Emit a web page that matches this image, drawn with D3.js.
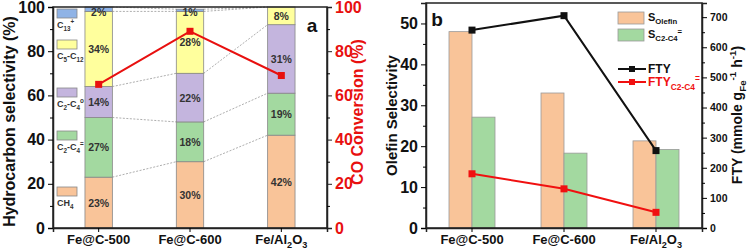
<!DOCTYPE html>
<html>
<head>
<meta charset="utf-8">
<script src="https://cdn.jsdelivr.net/npm/d3@7"></script>
<style>
  body { margin: 0; background: #fff; }
  svg { font-family: Arial, "Liberation Sans", sans-serif; }
</style>
</head>
<body>
<div id="chart"></div>
<script>
// data
var cats = ["Fe@C-500", "Fe@C-600", "Fe/Al2O3"];
var species = ["CH4", "C2-C4=", "C2-C4o", "C5-C12", "C13+"];
var ch4 = [23, 30, 42];
var olefins = [27, 18, 19];
var paraffins = [14, 22, 31];
var c5c12 = [34, 28, 8];
var c13 = [2, 1, 0];
var coConv = [65, 89, 69];

var sOlefin = [48, 33, 21.3];
var sC2C4 = [27.1, 18.3, 19.2];
var fty = [657, 705, 257];
var ftyC2C4 = [180, 130, 52];

var ticksA = [0, 20, 40, 60, 80, 100];
var ticksB = [0, 10, 20, 30, 40, 50];
var ticksFTY = [0, 100, 200, 300, 400, 500, 600, 700];

var colors = { "CH4": "#f9c499", "C2-C4=": "#a3d9a0", "C2-C4o": "#c4b5de", "C5-C12": "#ffff9d", "C13+": "#8fb3e6" };

var W = 747, H = 249;
var svg = d3.select("#chart").append("svg").attr("width", W).attr("height", H);

// rich text with sub / superscripts
function rich(sel, parts, size) {
  var cur = 0;
  parts.forEach(function(p) {
    var target = p[1] == "sub" ? size * 0.3 : p[1] == "sup" ? -size * 0.4 : 0;
    sel.append("tspan")
      .attr("dy", target - cur)
      .attr("font-size", p[1] ? size * 0.7 : size)
      .text(p[0]);
    cur = target;
  });
}
var catParts = [
  [["Fe@C-500"]],
  [["Fe@C-600"]],
  [["Fe/Al"], ["2", "sub"], ["O"], ["3", "sub"]]
];
var speciesParts = {
  "CH4": [["CH"], ["4", "sub"]],
  "C2-C4=": [["C"], ["2", "sub"], ["-C"], ["4", "sub"], ["=", "sup"]],
  "C2-C4o": [["C"], ["2", "sub"], ["-C"], ["4", "sub"], ["o", "sup"]],
  "C5-C12": [["C"], ["5", "sub"], ["-C"], ["12", "sub"]],
  "C13+": [["C"], ["13", "sub"], ["+", "sup"]]
};

// ---------- panel a ----------
var a = { left: 53, right: 327, top: 7, bottom: 228 };
var xa = d3.scaleBand().domain(cats).range([a.left, a.right]).paddingInner(0.7).paddingOuter(0.35);
var ya = d3.scaleLinear().domain([0, 100]).range([a.bottom, a.top]);

var table = cats.map(function(c, i) {
  return { cat: c, "CH4": ch4[i], "C2-C4=": olefins[i], "C2-C4o": paraffins[i], "C5-C12": c5c12[i], "C13+": c13[i] };
});
var stacked = d3.stack().keys(species)(table);

// dashed connectors between bars
var ga = svg.append("g");
for (var i = 0; i < cats.length - 1; i++) {
  stacked.forEach(function(s, k) {
    if (k == species.length - 1 && s[i + 1][1] - s[i + 1][0] == 0 && s[i][1] - s[i][0] == 0) return;
    ga.append("line")
      .attr("x1", xa(cats[i]) + xa.bandwidth()).attr("y1", ya(s[i][1]))
      .attr("x2", xa(cats[i + 1])).attr("y2", ya(s[i + 1][1]))
      .attr("stroke", "#999").attr("stroke-width", 0.8).attr("stroke-dasharray", "2,1.5");
  });
}

stacked.forEach(function(s) {
  ga.append("g").selectAll("rect").data(s).join("rect")
    .attr("x", d => xa(d.data.cat))
    .attr("y", d => ya(d[1]))
    .attr("width", xa.bandwidth())
    .attr("height", d => ya(d[0]) - ya(d[1]))
    .attr("fill", colors[s.key])
    .attr("stroke", d => d[1] > d[0] ? "#888" : "none")
    .attr("stroke-width", 0.8);
  ga.append("g").selectAll("text").data(s.filter(d => d[1] > d[0])).join("text")
    .attr("x", d => xa(d.data.cat) + xa.bandwidth() / 2)
    .attr("y", d => Math.max(ya((d[0] + d[1]) / 2), ya(100) + 5))
    .attr("dy", "0.38em")
    .attr("text-anchor", "middle")
    .attr("font-size", 10.5).attr("font-weight", "bold").attr("fill", "#333")
    .text(d => (d[1] - d[0]) + "%");
});

// CO conversion line
var lineA = d3.line().x((d, i) => xa(cats[i]) + xa.bandwidth() / 2).y(d => ya(d));
ga.append("path").attr("d", lineA(coConv)).attr("fill", "none").attr("stroke", "#e8100f").attr("stroke-width", 2);
ga.selectAll(".mk").data(coConv).join("rect")
  .attr("x", (d, i) => xa(cats[i]) + xa.bandwidth() / 2 - 3.5)
  .attr("y", d => ya(d) - 3.5)
  .attr("width", 7).attr("height", 7).attr("fill", "#e8100f");

// frame and axes
svg.append("rect").attr("x", a.left).attr("y", a.top).attr("width", a.right - a.left).attr("height", a.bottom - a.top)
  .attr("fill", "none").attr("stroke", "#222").attr("stroke-width", 1.5);

var axL = svg.append("g").attr("transform", "translate(" + a.left + ",0)")
  .call(d3.axisLeft(ya).tickValues(ticksA).tickSize(5).tickPadding(3));
svg.append("g").attr("transform", "translate(" + a.left + ",0)")
  .call(d3.axisLeft(ya).tickValues(d3.range(10, 100, 20)).tickSize(3).tickFormat(""))
  .call(g => g.select(".domain").remove());
axL.selectAll("text").attr("font-size", 16).attr("font-weight", "bold").attr("fill", "#111");

var axR = svg.append("g").attr("transform", "translate(" + a.right + ",0)")
  .call(d3.axisRight(ya).tickValues(ticksA).tickSize(5).tickPadding(3));
svg.append("g").attr("transform", "translate(" + a.right + ",0)")
  .call(d3.axisRight(ya).tickValues(d3.range(10, 100, 20)).tickSize(3).tickFormat(""))
  .call(g => g.select(".domain").remove());
axR.selectAll("text").attr("font-size", 16).attr("font-weight", "bold").attr("fill", "#e8100f");
axR.selectAll("line").attr("stroke", "#222");

var axXa = svg.append("g").attr("transform", "translate(0," + a.bottom + ")")
  .call(d3.axisBottom(xa).tickSize(4).tickFormat(""));
axXa.selectAll(".tick").each(function(d, i) {
  var t = d3.select(this).append("text").attr("y", 16).attr("fill", "#111")
    .attr("text-anchor", "middle").attr("font-weight", "bold");
  rich(t, catParts[i], 13);
});
svg.selectAll(".domain").attr("stroke", "#222").attr("stroke-width", 1.5);

svg.append("text").attr("transform", "translate(15," + ((a.top + a.bottom) / 2 + 4) + ") rotate(-90)")
  .attr("text-anchor", "middle").attr("font-size", 16).attr("font-weight", "bold").attr("fill", "#111")
  .text("Hydrocarbon selectivity (%)");
svg.append("text").attr("transform", "translate(363,112) rotate(-90)")
  .attr("text-anchor", "middle").attr("font-size", 16).attr("font-weight", "bold").attr("fill", "#e8100f")
  .text("CO Conversion (%)");
svg.append("text").attr("x", 312).attr("y", 32).attr("text-anchor", "middle")
  .attr("font-size", 19).attr("font-weight", "bold").attr("fill", "#111").text("a");

// legend panel a (top to bottom)
var legY = { "C13+": 9, "C5-C12": 40, "C2-C4o": 88, "C2-C4=": 131, "CH4": 187 };
species.forEach(function(k) {
  svg.append("rect").attr("x", 57).attr("y", legY[k]).attr("width", 20).attr("height", 9)
    .attr("fill", colors[k]).attr("stroke", "#888").attr("stroke-width", 0.8);
  var t = svg.append("text").attr("x", 57).attr("y", legY[k] + 19)
    .attr("font-size", 9).attr("font-weight", "bold").attr("fill", "#333");
  rich(t, speciesParts[k], 9);
});

// ---------- panel b ----------
var b = { left: 426, right: 702, top: 3, bottom: 228 };
var xb = d3.scaleBand().domain(cats).range([b.left, b.right]).paddingInner(0.5).paddingOuter(0.25);
var xb1 = d3.scaleBand().domain(["olefin", "c2c4"]).range([0, xb.bandwidth()]);
var yb = d3.scaleLinear().domain([0, 55]).range([b.bottom, b.top]);
var yf = d3.scaleLinear().domain([0, 747]).range([b.bottom, b.top]);

var gb = svg.append("g");
gb.selectAll(".so").data(sOlefin).join("rect")
  .attr("x", (d, i) => xb(cats[i]) + xb1("olefin")).attr("y", d => yb(d))
  .attr("width", xb1.bandwidth()).attr("height", d => yb(0) - yb(d))
  .attr("fill", colors["CH4"]).attr("stroke", "#999").attr("stroke-width", 0.8);
gb.selectAll(".sc").data(sC2C4).join("rect")
  .attr("x", (d, i) => xb(cats[i]) + xb1("c2c4")).attr("y", d => yb(d))
  .attr("width", xb1.bandwidth()).attr("height", d => yb(0) - yb(d))
  .attr("fill", colors["C2-C4="]).attr("stroke", "#999").attr("stroke-width", 0.8);

var cx = (d, i) => xb(cats[i]) + xb.bandwidth() / 2;
[[fty, "#111"], [ftyC2C4, "#f01010"]].forEach(function(p) {
  gb.append("path").attr("d", d3.line().x(cx).y(d => yf(d))(p[0]))
    .attr("fill", "none").attr("stroke", p[1]).attr("stroke-width", 2);
  gb.append("g").selectAll("rect").data(p[0]).join("rect")
    .attr("x", (d, i) => cx(d, i) - 3.5).attr("y", d => yf(d) - 3.5)
    .attr("width", 7).attr("height", 7).attr("fill", p[1]);
});

svg.append("rect").attr("x", b.left).attr("y", b.top).attr("width", b.right - b.left).attr("height", b.bottom - b.top)
  .attr("fill", "none").attr("stroke", "#222").attr("stroke-width", 1.5);

var axLb = svg.append("g").attr("transform", "translate(" + b.left + ",0)")
  .call(d3.axisLeft(yb).tickValues(ticksB).tickSize(5).tickPadding(3));
svg.append("g").attr("transform", "translate(" + b.left + ",0)")
  .call(d3.axisLeft(yb).tickValues(d3.range(5, 55, 10)).tickSize(3).tickFormat(""))
  .call(g => g.select(".domain").remove());
axLb.selectAll("text").attr("font-size", 16).attr("font-weight", "bold").attr("fill", "#111");

var axRb = svg.append("g").attr("transform", "translate(" + b.right + ",0)")
  .call(d3.axisRight(yf).tickValues(ticksFTY).tickSize(5).tickPadding(3));
svg.append("g").attr("transform", "translate(" + b.right + ",0)")
  .call(d3.axisRight(yf).tickValues(d3.range(50, 750, 100)).tickSize(3).tickFormat(""))
  .call(g => g.select(".domain").remove());
axRb.selectAll("text").attr("font-size", 10.5).attr("font-weight", "bold").attr("fill", "#111");

var axXb = svg.append("g").attr("transform", "translate(0," + b.bottom + ")")
  .call(d3.axisBottom(xb).tickSize(4).tickFormat(""));
axXb.selectAll(".tick").each(function(d, i) {
  var t = d3.select(this).append("text").attr("y", 16).attr("fill", "#111")
    .attr("text-anchor", "middle").attr("font-weight", "bold");
  rich(t, catParts[i], 13);
});
svg.selectAll(".domain").attr("stroke", "#222").attr("stroke-width", 1.5);

svg.append("text").attr("transform", "translate(397," + ((b.top + b.bottom) / 2) + ") rotate(-90)")
  .attr("text-anchor", "middle").attr("font-size", 15).attr("font-weight", "bold").attr("fill", "#111")
  .text("Olefin Selectivity");
var ft = svg.append("text").attr("transform", "translate(742,115) rotate(-90)")
  .attr("text-anchor", "middle").attr("font-weight", "bold").attr("fill", "#111");
rich(ft, [["FTY (mmole g"], ["Fe", "sub"], ["-1", "sup"], [" h"], ["-1", "sup"], [")"]], 14);
svg.append("text").attr("x", 437).attr("y", 26).attr("text-anchor", "middle")
  .attr("font-size", 19).attr("font-weight", "bold").attr("fill", "#111").text("b");

// legend panel b
var lb = svg.append("g").attr("transform", "translate(618,0)");
lb.append("rect").attr("y", 12).attr("width", 26).attr("height", 12).attr("fill", colors["CH4"]).attr("stroke", "#999").attr("stroke-width", 0.8);
lb.append("rect").attr("y", 29).attr("width", 26).attr("height", 12).attr("fill", colors["C2-C4="]).attr("stroke", "#999").attr("stroke-width", 0.8);
rich(lb.append("text").attr("x", 30).attr("y", 21).attr("font-weight", "bold").attr("fill", "#111"), [["S"], ["Olefin", "sub"]], 11);
rich(lb.append("text").attr("x", 30).attr("y", 38).attr("font-weight", "bold").attr("fill", "#111"), [["S"], ["C", "sub"], ["2", "sub"], ["-C", "sub"], ["4", "sub"], ["=", "sup"]], 11);
[[69, "#111", [["FTY"]]], [82, "#f01010", [["FTY"], ["C2-C4", "sub"], ["=", "sup"]]]].forEach(function(p) {
  lb.append("line").attr("x1", 0).attr("x2", 28).attr("y1", p[0]).attr("y2", p[0]).attr("stroke", p[1]).attr("stroke-width", 2);
  lb.append("rect").attr("x", 11).attr("y", p[0] - 3).attr("width", 6).attr("height", 6).attr("fill", p[1]);
  rich(lb.append("text").attr("x", 30).attr("y", p[0] + 4).attr("font-weight", "bold").attr("fill", p[1]), p[2], 12);
});
</script>
</body>
</html>
